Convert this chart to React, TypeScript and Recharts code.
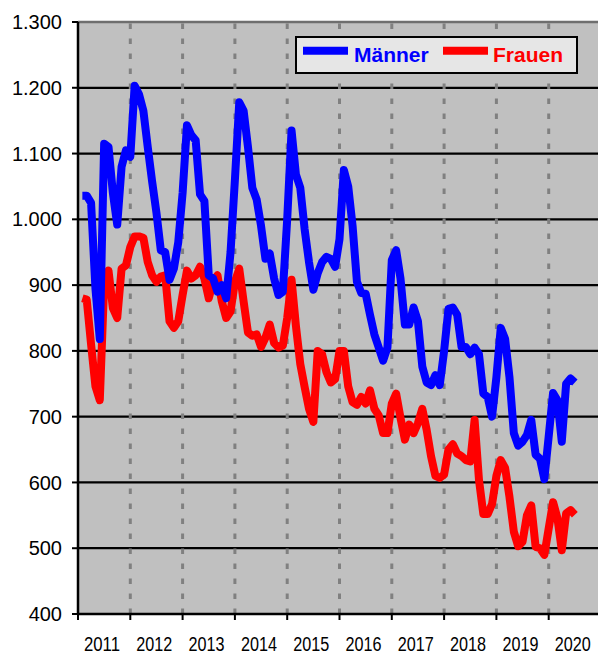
import React from 'react';
import { LineChart, Line, XAxis, YAxis, CartesianGrid, ReferenceLine, Legend } from 'recharts';

// month index (1 = first month shown)
const months = Array.from({ length: 114 }, (_, i) => i + 1);

const maenner = [
  1036, 1036, 1025, 895, 818, 1115, 1110, 1040, 992, 1080,
  1105, 1095, 1203, 1190, 1165, 1110, 1058, 1010, 953, 950,
  908, 925, 965, 1040, 1143, 1128, 1120, 1038, 1028, 915,
  910, 890, 900, 880, 950, 1060, 1178, 1165, 1110, 1048,
  1030, 990, 940, 948, 910, 885, 890, 1000, 1135, 1068,
  1048, 985, 935, 893, 918, 935, 943, 940, 928, 970,
  1075, 1050, 990, 905, 888, 887, 855, 825, 805, 785,
  805, 938, 953, 910, 840, 840, 866, 845, 776, 752,
  748, 763, 748, 800, 864, 866, 855, 806, 806, 795,
  805, 795, 735, 730, 700, 760, 835, 818, 760, 675,
  656, 662, 672, 695, 642, 636, 605, 670, 736, 725,
  662, 750, 758, 752,
];

const frauen = [
  880, 878, 810, 746, 725, 900, 922, 865, 850, 925,
  930, 958, 974, 974, 972, 935, 915, 905, 913, 915,
  845, 835, 845, 885, 922, 910, 915, 928, 910, 880,
  905, 915, 875, 850, 860, 905, 925, 875, 828, 823,
  825, 806, 820, 840, 812, 805, 808, 850, 908, 838,
  780, 745, 712, 692, 800, 795, 768, 752, 757, 800,
  800, 746, 722, 718, 730, 720, 740, 712, 702, 675,
  675, 720, 735, 698, 665, 688, 675, 690, 712, 680,
  640, 610, 607, 612, 650, 658, 644, 640, 634, 632,
  695, 604, 552, 552, 567, 610, 634, 622, 578, 525,
  503, 510, 550, 565, 502, 500, 490, 530, 570, 546,
  497, 553, 558, 551,
];

const yearLabels = ['2011', '2012', '2013', '2014', '2015', '2016', '2017', '2018', '2019', '2020'];
const xTicks = [0, 12, 24, 36, 48, 60, 72, 84, 96, 108, 120];
const yearStarts = [12, 24, 36, 48, 60, 72, 84, 96, 108];
const yTicks = [400, 500, 600, 700, 800, 900, 1000, 1100, 1200, 1300];

const data = months.map((m, i) => ({ m, maenner: maenner[i], frauen: frauen[i] }));

const FONT = '"Liberation Sans", Arial, Helvetica, sans-serif';

const fmt = (v: number) =>
  v >= 1000 ? `${Math.floor(v / 1000)}.${String(v % 1000).padStart(3, '0')}` : String(v);

const XTick = (props: any) => {
  const { x, y, payload } = props;
  const label = yearLabels[xTicks.indexOf(payload.value)];
  if (!label) return null;
  return (
    <text
      x={x + 24}
      y={y}
      dy="0.71em"
      textAnchor="middle"
      fontFamily={FONT}
      fontSize={19.5}
      fill="#000"
      textLength={36}
      lengthAdjust="spacingAndGlyphs"
    >
      {label}
    </text>
  );
};

const LegendBox = () => (
  <svg width={283} height={38} style={{ display: 'block' }}>
    <rect x={1} y={1} width={281} height={36} fill="#E6E6E6" stroke="#000" strokeWidth={2} />
    <line x1={8} x2={53} y1={14.8} y2={14.8} stroke="#0000FF" strokeWidth={8} />
    <text x={59} y={25.7} fontFamily={FONT} fontWeight="bold" fontSize={21} fill="#0000FF">
      Männer
    </text>
    <line x1={148} x2={193} y1={14.8} y2={14.8} stroke="#FF0000" strokeWidth={8} />
    <text x={198} y={25.7} fontFamily={FONT} fontWeight="bold" fontSize={21} fill="#FF0000">
      Frauen
    </text>
  </svg>
);

export default function App() {
  return (
    <div
      style={{
        position: 'absolute',
        left: 0,
        top: 0,
        width: 598,
        height: 655,
        overflow: 'hidden',
        background: '#fff',
      }}
    >
      <LineChart width={601} height={655} data={data} margin={{ top: 22, right: 0, bottom: 0, left: 0 }}>
        <CartesianGrid fill="#C0C0C0" fillOpacity={1} stroke="#000" strokeWidth={2.2} vertical={false} />
        <XAxis
          type="number"
          dataKey="m"
          domain={[0, 120]}
          ticks={xTicks}
          interval={0}
          tickSize={6}
          tickMargin={17}
          height={41}
          axisLine={{ stroke: '#000', strokeWidth: 2.5 }}
          tickLine={{ stroke: '#000', strokeWidth: 2 }}
          tick={<XTick />}
        />
        <YAxis
          type="number"
          domain={[400, 1300]}
          ticks={yTicks}
          interval={0}
          width={78}
          tickSize={6}
          tickMargin={10}
          axisLine={{ stroke: '#000', strokeWidth: 2.5 }}
          tickLine={{ stroke: '#000', strokeWidth: 2 }}
          tick={{ fill: '#000', fontSize: 20, fontFamily: FONT }}
          tickFormatter={fmt}
        />
        {yearStarts.map((v) => (
          <ReferenceLine key={v} x={v} stroke="#808080" strokeWidth={3} strokeDasharray="5.5 9.5" />
        ))}
        <ReferenceLine y={1300} stroke="#6E6E6E" strokeWidth={2.5} />
        <Legend
          layout="horizontal"
          verticalAlign="middle"
          align="center"
          content={() => <LegendBox />}
          wrapperStyle={{ position: 'absolute', left: 295, top: 36, width: 283, height: 38 }}
        />
        <Line
          type="linear"
          dataKey="frauen"
          name="Frauen"
          stroke="#FF0000"
          strokeWidth={8}
          strokeLinejoin="round"
          strokeLinecap="butt"
          dot={false}
          activeDot={false}
          isAnimationActive={false}
        />
        <Line
          type="linear"
          dataKey="maenner"
          name="Männer"
          stroke="#0000FF"
          strokeWidth={8}
          strokeLinejoin="round"
          strokeLinecap="butt"
          dot={false}
          activeDot={false}
          isAnimationActive={false}
        />
      </LineChart>
    </div>
  );
}
